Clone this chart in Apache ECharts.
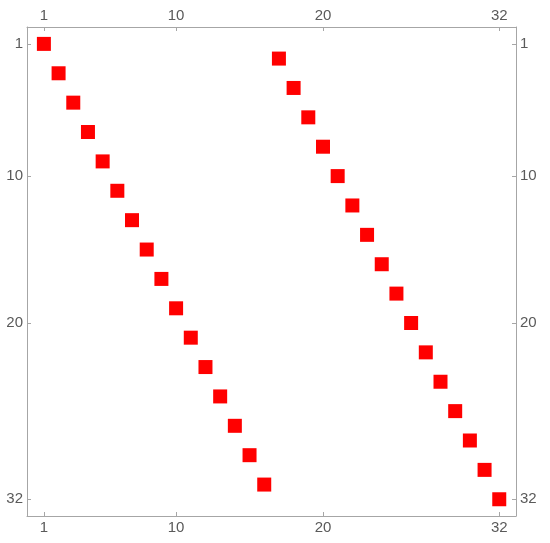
<!DOCTYPE html>
<html><head><meta charset="utf-8">
<script src="https://cdn.jsdelivr.net/npm/echarts@6/dist/echarts.min.js"></script>
<style>html,body{margin:0;padding:0;background:#fff}#c{width:550px;height:543px}</style>
</head><body><div id="c"></div>
<script>
const columns = [1,2,3,4,5,6,7,8,9,10,11,12,13,14,15,16,17,18,19,20,21,22,23,24,25,26,27,28,29,30,31,32];
const rows = [1,3,5,7,9,11,13,15,17,19,21,23,25,27,29,31,2,4,6,8,10,12,14,16,18,20,22,24,26,28,30,32];
const tickValues = [1,10,20,32];

const data = columns.map((c,i)=>[c, rows[i]]);
const lineCol = '#a6a6a6';
const labCol = '#5a5a5a';
function axis(pos, inverse){
  return {
    type:'value', position:pos, inverse:inverse, min:-0.15, max:33.14,
    splitLine:{show:false},
    axisLine:{show:true, onZero:false, lineStyle:{color:lineCol, width:1}},
    axisTick:{show:true, inside:true, length:4, customValues:tickValues, lineStyle:{color:lineCol}},
    axisLabel:{show:true, customValues:tickValues, color:labCol, fontSize:15, fontFamily:'Liberation Sans, Arial, sans-serif', margin:4}
  };
}
const chart = echarts.init(document.getElementById('c'));
chart.setOption({
  animation:false,
  grid:{left:27, right:34, top:27, bottom:27},
  xAxis:[axis('bottom',false), axis('top',false)],
  yAxis:[axis('left',true), axis('right',true)],
  series:[{type:'scatter', xAxisIndex:0, yAxisIndex:0, symbol:'rect', symbolSize:14,
    itemStyle:{color:'#ff0000', opacity:1}, emphasis:{disabled:true}, data:data}]
});
</script></body></html>
